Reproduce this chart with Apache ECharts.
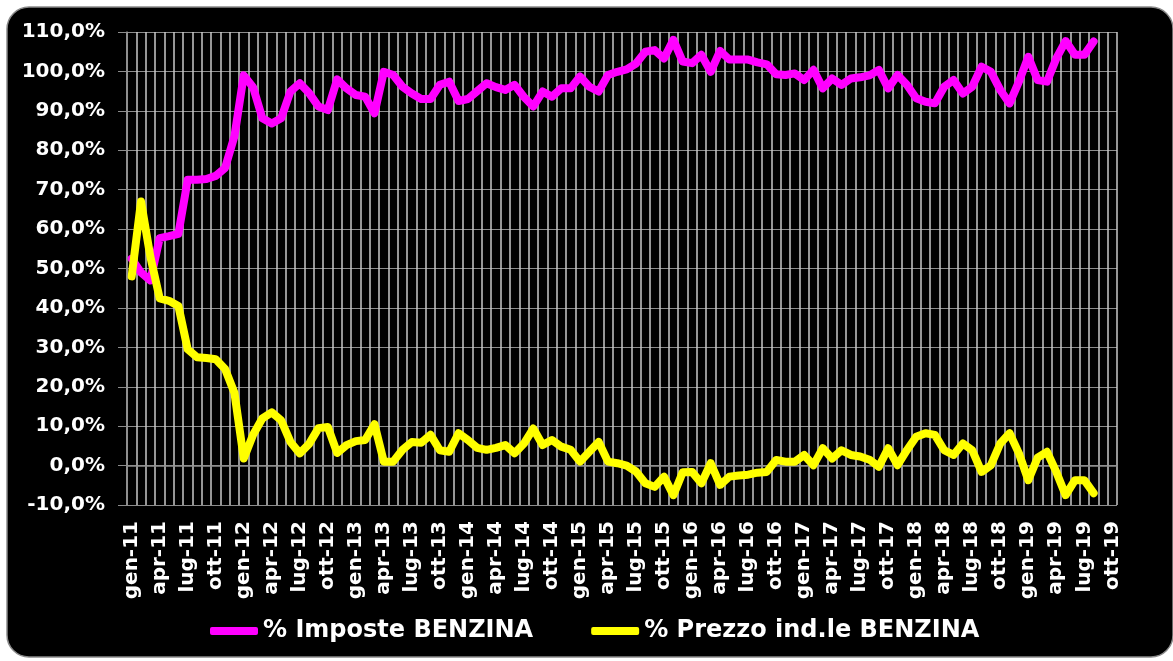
<!DOCTYPE html>
<html>
<head>
<meta charset="utf-8">
<script src="https://cdn.jsdelivr.net/npm/echarts@6/dist/echarts.min.js"></script>
<style>
  html, body { margin: 0; padding: 0; background: #fff; }
  #chart { width: 1173px; height: 661px; }
</style>
</head>
<body>
<div id="chart"></div>
<script>
// mesi e anni dell'asse (gen-11 .. ott-19)
const mesi = ['gen', 'feb', 'mar', 'apr', 'mag', 'giu', 'lug', 'ago', 'set', 'ott', 'nov', 'dic']
const anni = ['11', '12', '13', '14', '15', '16', '17', '18', '19']
const ultimoMese = 'ott-19'

// % Imposte BENZINA (gen-11 .. ago-19)
const imposte = [
  52.5, 49, 47, 57.7, 58.2, 58.8, 72.5, 72.5, 72.7, 73.5, 75.5, 83.5,
  99, 96, 88.1, 86.8, 88.1, 94.9, 97, 94.5, 91.1, 90.2, 98, 95.7,
  94, 93.6, 89.4, 99.9, 99.1, 96.1, 94.4, 93, 93, 96.6, 97.4, 92.5,
  93, 95, 97, 96, 95.3, 96.6, 93.5, 91.1, 94.9, 93.6, 95.7, 95.7,
  98.7, 96.1, 94.9, 99.1, 99.9, 100.5, 102, 105, 105.4, 103.3, 108, 102.5,
  102.1, 104.2, 99.9, 105.2, 103, 103, 103, 102.3, 101.8, 99.3, 99.1, 99.5,
  97.8, 100.4, 95.7, 98.2, 96.6, 98.2, 98.5, 99, 100.4, 95.7, 99.1, 96.6,
  93.2, 92.3, 91.9, 96.1, 97.8, 94.4, 96.1, 101.2, 99.9, 95.3, 91.9, 97.4,
  103.7, 97.8, 97.4, 103.3, 107.7, 104.2, 104.2, 107.6
]

// % Prezzo ind.le BENZINA (gen-11 .. ago-19)
const prezzoInd = [
  48, 67, 53, 42.4, 41.8, 40.5, 29.5, 27.5, 27.3, 27, 24.5, 18.5,
  1.8, 7.8, 12, 13.5, 11.5, 6, 3.1, 5.5, 9.5, 9.8, 3.2, 5.2,
  6.2, 6.5, 10.5, 1, 1, 4, 6, 5.8, 7.8, 3.9, 3.5, 8.2,
  6.5, 4.5, 4, 4.5, 5.2, 3.1, 5.6, 9.4, 5.2, 6.5, 4.8, 4,
  1, 3.5, 6, 1, 0.6, 0, -1.5, -4.5, -5.4, -2.8, -7.5, -1.7,
  -1.6, -4.5, 0.6, -4.9, -2.8, -2.5, -2.3, -1.8, -1.6, 1.4, 1, 1,
  2.7, 0.1, 4.4, 1.8, 3.9, 2.7, 2.3, 1.5, -0.3, 4.4, 0.1, 3.9,
  7.3, 8.2, 7.8, 3.9, 2.7, 5.6, 3.9, -1.6, 0.1, 5.6, 8.2, 3.1,
  -3.7, 2, 3.5, -1.6, -7.5, -3.7, -3.7, -7
]

// categorie mensili
const categorie = []
for (const a of anni) {
  for (const m of mesi) {
    categorie.push(m + '-' + a)
    if (m + '-' + a === ultimoMese) break
  }
}

const font = 'DejaVu Sans'
const chart = echarts.init(document.getElementById('chart'))

const option = {
  backgroundColor: 'transparent',
  animation: false,
  graphic: [{
    type: 'rect',
    z: -10,
    silent: true,
    shape: { x: 7, y: 7, width: 1166, height: 650, r: 22 },
    style: { fill: '#000', stroke: '#8a8a8a', lineWidth: 1.5 }
  }],
  grid: { left: 127, top: 32, width: 990, height: 473 },
  legend: {
    left: 210,
    top: 619,
    padding: 0,
    itemGap: 58,
    itemWidth: 48,
    itemHeight: 8,
    icon: 'roundRect',
    textStyle: { color: '#fff', fontFamily: font, fontWeight: 'bold', fontSize: 24 },
    data: ['% Imposte BENZINA', '% Prezzo ind.le BENZINA']
  },
  xAxis: {
    type: 'category',
    data: categorie,
    boundaryGap: true,
    axisLine: { lineStyle: { color: '#8c8c8c', width: 1.5 } },
    axisTick: { interval: 2, length: 8, lineStyle: { color: '#8c8c8c', width: 1.5 } },
    axisLabel: {
      interval: 2,
      rotate: 90,
      margin: 16,
      color: '#fff',
      fontFamily: font,
      fontWeight: 'bold',
      fontSize: 20
    },
    splitLine: { show: true, interval: 0, lineStyle: { color: '#c8c8c8', width: 1.5 } }
  },
  yAxis: {
    type: 'value',
    min: -10,
    max: 110,
    interval: 10,
    axisLine: { show: true, lineStyle: { color: '#8c8c8c', width: 1.5 } },
    axisTick: { show: true, length: 9, lineStyle: { color: '#8c8c8c' } },
    axisLabel: {
      margin: 22,
      color: '#fff',
      fontFamily: font,
      fontWeight: 'bold',
      fontSize: 20,
      formatter: v => v.toFixed(1).replace('.', ',') + '%'
    },
    splitLine: { lineStyle: { color: '#8c8c8c', width: 1.2 } }
  },
  series: [
    {
      name: '% Imposte BENZINA',
      type: 'line',
      data: imposte,
      symbol: 'none',
      color: '#ff00ff',
      lineStyle: { width: 8, color: '#ff00ff', cap: 'round', join: 'round' },
      z: 3
    },
    {
      name: '% Prezzo ind.le BENZINA',
      type: 'line',
      data: prezzoInd,
      symbol: 'none',
      color: '#ffff00',
      lineStyle: { width: 8, color: '#ffff00', cap: 'round', join: 'round' },
      z: 4
    }
  ]
}

chart.setOption(option)
</script>
</body>
</html>
